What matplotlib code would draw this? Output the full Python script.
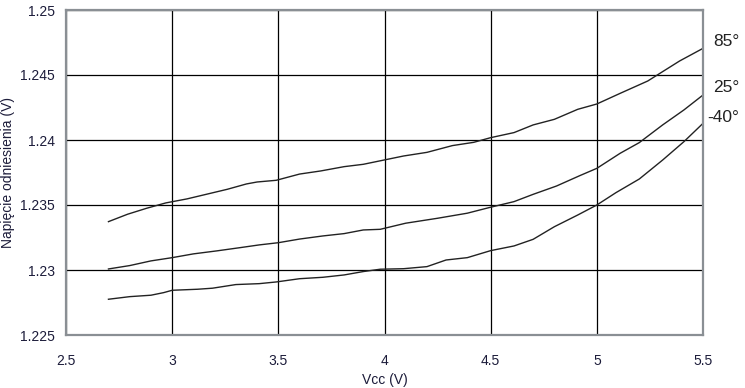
import matplotlib.pyplot as plt

plt.rcParams['font.family'] = ['Liberation Sans', 'DejaVu Sans']

# Vcc (V) vs reference voltage (V) at three temperatures
vcc_85 = [2.70, 2.79, 2.88, 2.97, 3.07, 3.16, 3.26, 3.35, 3.40, 3.49, 3.60, 3.70,
          3.81, 3.90, 3.98, 4.09, 4.20, 4.32, 4.42, 4.50, 4.61, 4.70, 4.80, 4.91,
          5.00, 5.11, 5.24, 5.31, 5.39, 5.50]
v_85 = [1.23372, 1.23429, 1.23475, 1.23516, 1.23547, 1.23582, 1.23621, 1.23662,
        1.23677, 1.23690, 1.23738, 1.23762, 1.23795, 1.23813, 1.23840, 1.23877,
        1.23905, 1.23957, 1.23982, 1.24018, 1.24057, 1.24116, 1.24159, 1.24236,
        1.24277, 1.24359, 1.24454, 1.24526, 1.24608, 1.24705]

vcc_25 = [2.70, 2.80, 2.90, 3.00, 3.10, 3.21, 3.32, 3.41, 3.50, 3.60, 3.71, 3.81,
          3.90, 3.98, 4.10, 4.25, 4.39, 4.50, 4.61, 4.70, 4.81, 4.92, 5.00, 5.11,
          5.20, 5.31, 5.41, 5.50]
v_25 = [1.23008, 1.23034, 1.23070, 1.23095, 1.23124, 1.23147, 1.23172, 1.23193,
        1.23210, 1.23238, 1.23262, 1.23280, 1.23308, 1.23313, 1.23360, 1.23398,
        1.23437, 1.23483, 1.23526, 1.23582, 1.23646, 1.23726, 1.23782, 1.23898,
        1.23980, 1.24116, 1.24231, 1.24346]

vcc_m40 = [2.70, 2.80, 2.90, 2.96, 3.00, 3.12, 3.19, 3.30, 3.41, 3.49, 3.60, 3.71,
           3.81, 3.90, 3.98, 4.09, 4.20, 4.29, 4.39, 4.50, 4.61, 4.70, 4.80, 4.91,
           5.00, 5.09, 5.20, 5.31, 5.41, 5.50]
v_m40 = [1.22775, 1.22795, 1.22806, 1.22826, 1.22844, 1.22852, 1.22860, 1.22888,
         1.22895, 1.22908, 1.22933, 1.22944, 1.22962, 1.22988, 1.23006, 1.23010,
         1.23026, 1.23077, 1.23095, 1.23149, 1.23185, 1.23236, 1.23333, 1.23423,
         1.23500, 1.23595, 1.23700, 1.23846, 1.23987, 1.24128]

labels = ['85°', '25°', '-40°']
x_ticks = [2.5, 3, 3.5, 4, 4.5, 5, 5.5]
y_ticks = [1.225, 1.23, 1.235, 1.24, 1.245, 1.25]

fig = plt.figure(figsize=(7.45, 3.88), dpi=100)
ax = fig.add_axes([66 / 745, 53 / 388, 637 / 745, 325 / 388])

for x, y in [(vcc_85, v_85), (vcc_25, v_25), (vcc_m40, v_m40)]:
    ax.plot(x, y, color='#222222', lw=1.0)

ax.set_xlim(2.5, 5.5)
ax.set_ylim(1.225, 1.25)
ax.set_xticks(x_ticks)
ax.set_xticklabels([f'{t:g}' for t in x_ticks])
ax.set_yticks(y_ticks)
ax.set_yticklabels([f'{t:g}' for t in y_ticks])
ax.grid(True, color='black', lw=0.9)
ax.set_axisbelow(True)
ax.tick_params(length=0, labelsize=10, colors='#1c1c3a')
ax.tick_params(axis='x', pad=14)
ax.tick_params(axis='y', pad=8)
for s in ax.spines.values():
    s.set_color('#8a8f94')
    s.set_linewidth(1.6)

ax.set_xlabel('Vcc (V)', fontsize=10, color='#1c1c3a', va='center')
ax.xaxis.set_label_coords(0.5, -45 / 325)
ax.set_ylabel('Napięcie odniesienia (V)', fontsize=10, color='#1c1c3a', va='center')
ax.yaxis.set_label_coords(-58 / 637, 0.5)

# curve labels at the right
for lab, ypx in zip(labels, [42, 87, 118]):
    fig.text(739 / 745, 1 - ypx / 388, lab, ha='right', va='center', fontsize=12.5,
             color='#222222')

fig.savefig('out.png', dpi=100)
